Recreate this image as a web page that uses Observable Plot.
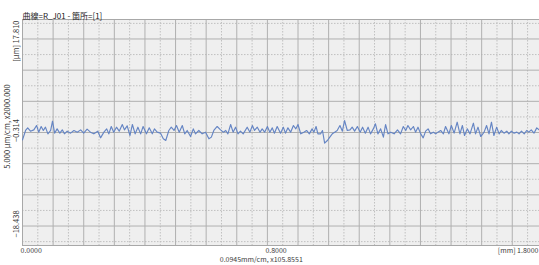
<!DOCTYPE html>
<html>
<head>
<meta charset="utf-8">
<script src="https://cdn.jsdelivr.net/npm/d3@7"></script>
<script src="https://cdn.jsdelivr.net/npm/@observablehq/plot@0.6"></script>
<style>
  html, body { margin: 0; padding: 0; background: #fff; overflow: hidden; }
  #chart { width: 539px; height: 265px; overflow: hidden; }
</style>
</head>
<body>
<div id="chart"></div>
<script>
// ---- data ----
const title = "曲線=R_J01 - 箇所=[1]";
const yTop = 17.810, yMid = -0.314, yBottom = -18.438;
const yUnitLabel = "[μm] ";
const yScaleLabel = "5.000 μm/cm, x2000.000";
const xTickValues = [0, 0.8];
const xEnd = 1.8;
const xEndLabel = "[mm] 1.8000";
const xScaleLabel = "0.0945mm/cm, x105.8551";

const profileX = [
  0.000,0.010,0.017,0.026,0.037,0.046,0.053,0.061,0.068,0.075,0.083,0.092,0.098,0.105,0.113,0.122,0.130,0.137,0.146,0.157,
  0.168,0.179,0.190,0.200,0.211,0.222,0.233,0.246,0.255,0.266,0.275,0.282,0.290,0.298,0.307,0.316,0.326,0.333,0.342,0.351,
  0.359,0.368,0.377,0.386,0.394,0.405,0.414,0.424,0.431,0.440,0.451,0.460,0.468,0.478,0.486,0.495,0.503,0.512,0.522,0.530,
  0.538,0.549,0.558,0.565,0.576,0.587,0.598,0.609,0.617,0.625,0.636,
  0.647,0.656,0.664,0.671,0.680,0.688,0.696,0.704,0.712,0.721,0.734,0.743,0.751,0.758,0.767,0.776,0.783,0.791,0.800,0.808,
  0.816,0.823,0.832,0.843,0.852,0.859,0.867,0.876,0.885,0.893,0.900,0.909,0.919,0.928,0.937,0.946,0.952,0.959,0.965,0.974,
  0.980,0.987,0.996,1.004,1.012,1.020,1.028,1.037,1.045,1.052,1.061,1.070,1.077,1.085,1.094,1.103,1.111,1.120,1.129,1.137,
  1.146,1.153,1.161,1.170,1.179,1.186,1.194,1.203,1.214,1.225,1.235,
  1.244,1.252,1.259,1.268,1.277,1.284,1.292,1.301,1.309,1.317,1.325,1.333,1.342,1.350,1.357,1.366,1.375,1.382,1.393,1.401,
  1.410,1.420,1.429,1.437,1.444,1.453,1.462,1.473,1.480,1.488,1.497,1.508,1.516,1.524,1.532,1.540,1.549,1.557,1.564,1.573,
  1.582,1.589,1.597,1.606,1.615,1.622,1.630,1.639,1.647,1.654,1.662,1.671,1.680,1.690
];
const profileY = [
  -1.49,0.01,0.43,-0.10,0.11,0.81,-0.26,0.65,0.01,0.54,-0.53,0.01,1.50,-0.42,0.27,-0.42,0.11,-0.53,-0.10,-0.42,
  0.01,-0.26,0.11,-0.42,0.22,-0.26,-0.53,-0.10,-1.17,-0.26,0.27,-0.53,0.65,-0.26,0.54,-0.10,0.97,0.11,0.76,-0.80,
  0.97,-0.53,0.54,-0.53,0.65,-0.53,0.43,-0.53,0.27,-0.26,-0.42,-1.33,-1.60,0.01,0.54,0.01,0.81,-0.26,0.81,-0.53,
  0.01,-0.96,0.27,-0.53,0.01,-0.53,-0.26,-1.33,-1.06,0.01,0.65,
  0.11,-0.26,0.01,-0.53,0.97,-0.26,0.54,-0.53,-0.10,-0.53,0.54,-0.26,0.81,0.01,0.54,-0.26,0.27,-0.26,0.65,-0.26,
  0.43,-0.42,0.65,-0.42,0.54,-0.42,0.43,-0.26,0.81,0.27,0.97,-0.53,-0.26,0.01,-0.53,0.27,-0.26,0.65,-0.53,-0.53,
  0.01,-2.02,-1.60,-1.06,-0.53,-0.26,0.01,0.81,-0.10,1.61,0.01,0.11,0.54,-0.10,0.65,-0.26,0.54,-0.42,0.54,-0.53,
  0.27,1.08,-0.53,0.27,-1.06,0.97,-0.53,-0.26,-0.53,0.11,-0.53,
  0.65,0.01,0.81,0.11,0.65,-0.26,0.54,-0.53,-1.17,-0.10,0.27,-0.53,-0.26,-0.53,-0.26,0.01,-0.53,0.65,-0.53,0.81,
  -0.42,1.34,-0.53,0.81,-0.80,0.27,-0.53,1.18,-0.53,0.54,-0.96,-0.26,0.81,-0.53,1.34,-0.80,0.54,-0.53,0.01,-0.42,
  -0.10,-0.53,-0.10,-0.42,-0.26,-0.53,-0.10,-0.53,0.01,-0.26,0.11,-0.42,0.43,0.01
];

// ---- build ----
const profile = profileX.map((x, i) => ({x, y: profileY[i]}));
const xMajor = d3.range(0, xEnd + 1e-9, 0.1);
const xMinor = d3.range(0.05, xEnd, 0.1);
const yMajor = d3.range(yMid - 15, yTop, 5);
const yMinor = d3.range(yMid - 17.5, yTop, 5);
const fmt = d3.format(".3f");
const fmtX = d3.format(".4f");

const font = "'Noto Sans CJK JP', 'Noto Sans', sans-serif";
const txt = "#3a3a3a";

const chart = Plot.plot({
  width: 539,
  height: 265,
  marginLeft: 22,
  marginRight: 0,
  marginTop: 19,
  marginBottom: 20,
  style: {fontFamily: font, fontSize: "7.5px", background: "#fff", overflow: "hidden"},
  x: {domain: [0, xEnd], range: [22, 573], axis: null},
  y: {domain: [yBottom, yTop], axis: null},
  marks: [
    Plot.frame({fill: "#efefef", stroke: null}),
    Plot.ruleX(xMinor, {stroke: "#c0c0c0", strokeWidth: 1, strokeDasharray: "1.5,1.5"}),
    Plot.ruleY(yMinor, {stroke: "#c0c0c0", strokeWidth: 1, strokeDasharray: "1.5,1.5"}),
    Plot.ruleX(xMajor, {stroke: "#b0b0b0", strokeWidth: 1}),
    Plot.ruleY(yMajor, {stroke: "#b0b0b0", strokeWidth: 1}),
    Plot.frame({stroke: "#a8a8a8", strokeWidth: 1}),
    Plot.line(profile, {x: "x", y: "y", stroke: "#6585c4", strokeWidth: 1.15, curve: "linear"}),
    // title
    Plot.text([title], {frameAnchor: "top-left", textAnchor: "start", dy: -6, fontSize: 8, fill: "#222"}),
    // y labels (rotated)
    Plot.text([yTop], {x: 0, y: d => d, text: d => yUnitLabel + fmt(d), rotate: -90, textAnchor: "end", dx: -6, dy: 1, fill: txt}),
    Plot.text([yMid], {x: 0, y: d => d, text: d => fmt(d).replace("-", "−"), rotate: -90, textAnchor: "middle", dx: -6, dy: -2, fill: txt}),
    Plot.text([yBottom], {x: 0, y: d => d, text: d => fmt(d).replace("-", "−"), rotate: -90, textAnchor: "start", dx: -6, dy: -8, fill: txt}),
    Plot.text([yScaleLabel], {frameAnchor: "left", rotate: -90, textAnchor: "middle", dx: -15, dy: -6, fill: txt}),
    // x labels
    Plot.text(xTickValues, {x: d => d, frameAnchor: "bottom", text: d => fmtX(d), textAnchor: "start", dx: -2, dy: 7.5, fontSize: 7, fill: txt}),
    Plot.text([xScaleLabel], {x: [0.78], frameAnchor: "bottom", textAnchor: "middle", dy: 16.5, fontSize: 7, fill: txt}),
    Plot.text([xEndLabel], {frameAnchor: "bottom-right", textAnchor: "end", dx: -1, dy: 7.5, fontSize: 7, fill: txt})
  ]
});
document.getElementById("chart").appendChild(chart);
</script>
</body>
</html>
